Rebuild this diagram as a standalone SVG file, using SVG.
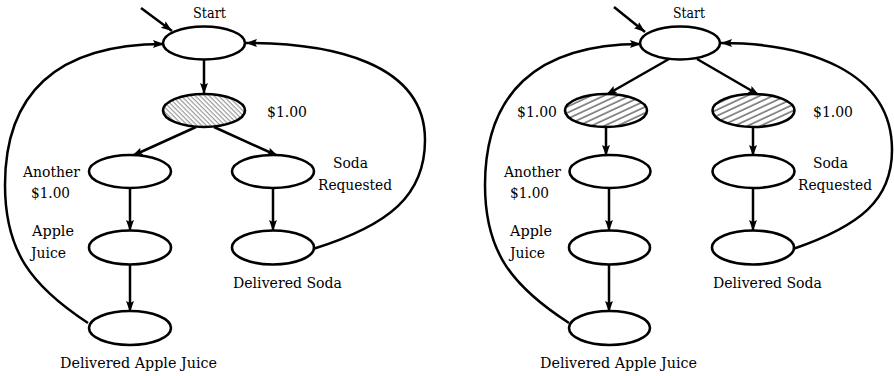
<svg xmlns="http://www.w3.org/2000/svg" width="894" height="376" viewBox="0 0 894 376">
<style>
.n{fill:#fff;stroke:#000;stroke-width:2.6}
.h1{fill:url(#hatchL);stroke:#000;stroke-width:2.6}
.h2{fill:url(#hatchR);stroke:#000;stroke-width:2.6}
.e{fill:none;stroke:#000;stroke-width:2.5;marker-end:url(#ah)}
text{font-family:'DejaVu Serif',serif;font-size:15px;fill:#000}
</style>
<defs>
<marker id="ah" markerUnits="userSpaceOnUse" markerWidth="12" markerHeight="10" refX="11" refY="4" orient="auto">
<path d="M0,0 L11,4 L0,8 L2,4 Z" fill="#000"/>
</marker>
<pattern id="hatchL" patternUnits="userSpaceOnUse" width="3.3" height="3.3" patternTransform="rotate(-45)">
<rect width="3.3" height="3.3" fill="#fff"/>
<line x1="1" y1="0" x2="1" y2="3.3" stroke="#555" stroke-width="0.7"/>
</pattern>
<pattern id="hatchR" patternUnits="userSpaceOnUse" width="6" height="5.5" patternTransform="rotate(-25)">
<rect width="6" height="5.5" fill="#fff"/>
<line x1="0" y1="1" x2="6" y2="1" stroke="#000" stroke-width="0.9"/>
</pattern>
</defs>

<g id="connectors">
<line class="e" x1="141" y1="8" x2="172" y2="31"/>
<line class="e" x1="204" y1="59" x2="204" y2="94"/>
<line class="e" x1="196" y1="127" x2="132" y2="156"/>
<line class="e" x1="214" y1="127" x2="278" y2="156"/>
<line class="e" x1="130" y1="188" x2="130" y2="231"/>
<line class="e" x1="273" y1="188" x2="273" y2="231"/>
<line class="e" x1="130" y1="264" x2="130" y2="312"/>
<path class="e" d="M88,323 C30,285 5,250 5,185 C5,95 55,44 164,44"/>
<path class="e" d="M313,249 C390,225 425,195 425,140 C425,62 330,43 246,43"/>
<line class="e" x1="614" y1="7" x2="645" y2="32"/>
<line class="e" x1="669" y1="59" x2="606" y2="95"/>
<line class="e" x1="697" y1="59" x2="759" y2="95"/>
<line class="e" x1="606" y1="127" x2="606" y2="156"/>
<line class="e" x1="753" y1="127" x2="753" y2="156"/>
<line class="e" x1="609" y1="188" x2="609" y2="231"/>
<line class="e" x1="753" y1="188" x2="753" y2="231"/>
<line class="e" x1="609" y1="264" x2="609" y2="312"/>
<path class="e" d="M569,323 C510,285 485,250 485,185 C485,95 535,44 641,44"/>
<path class="e" d="M793,249 C860,226 892,200 892,150 C892,70 805,43 721,43"/>
</g>

<g id="L-start">
<ellipse class="n" cx="204" cy="43" rx="41" ry="16.5"/>
<text x="193" y="18" textLength="33" lengthAdjust="spacingAndGlyphs">Start</text>
</g>
<g id="L-dollar">
<ellipse class="h1" cx="204" cy="110.5" rx="41" ry="16.5"/>
<text x="267" y="117" textLength="40" lengthAdjust="spacingAndGlyphs">$1.00</text>
</g>
<g id="L-another">
<ellipse class="n" cx="130" cy="171.5" rx="41" ry="16.5"/>
<text x="23" y="177" textLength="57" lengthAdjust="spacingAndGlyphs">Another</text>
<text x="31" y="198" textLength="39" lengthAdjust="spacingAndGlyphs">$1.00</text>
</g>
<g id="L-soda">
<ellipse class="n" cx="273" cy="171.5" rx="41" ry="16.5"/>
<text x="333" y="168" textLength="35" lengthAdjust="spacingAndGlyphs">Soda</text>
<text x="318" y="190" textLength="74" lengthAdjust="spacingAndGlyphs">Requested</text>
</g>
<g id="L-apple">
<ellipse class="n" cx="130" cy="247.5" rx="41" ry="17"/>
<text x="32" y="236" textLength="42" lengthAdjust="spacingAndGlyphs">Apple</text>
<text x="31" y="258" textLength="35" lengthAdjust="spacingAndGlyphs">Juice</text>
</g>
<g id="L-delsoda">
<ellipse class="n" cx="273" cy="247.5" rx="41" ry="17"/>
<text x="233" y="288" textLength="109" lengthAdjust="spacingAndGlyphs">Delivered Soda</text>
</g>
<g id="L-delapple">
<ellipse class="n" cx="130" cy="328" rx="41" ry="17"/>
<text x="60" y="368" textLength="157" lengthAdjust="spacingAndGlyphs">Delivered Apple Juice</text>
</g>

<g id="R-start">
<ellipse class="n" cx="680" cy="43" rx="40" ry="16.5"/>
<text x="673" y="18" textLength="32" lengthAdjust="spacingAndGlyphs">Start</text>
</g>
<g id="R-dollar1">
<ellipse class="h2" cx="606" cy="110.5" rx="41" ry="16.5"/>
<text x="517" y="117" textLength="40" lengthAdjust="spacingAndGlyphs">$1.00</text>
</g>
<g id="R-dollar2">
<ellipse class="h2" cx="753.5" cy="110.5" rx="41" ry="16.5"/>
<text x="813" y="117" textLength="40" lengthAdjust="spacingAndGlyphs">$1.00</text>
</g>
<g id="R-another">
<ellipse class="n" cx="610" cy="171.5" rx="40.5" ry="16.5"/>
<text x="504" y="177" textLength="57" lengthAdjust="spacingAndGlyphs">Another</text>
<text x="510" y="198" textLength="39" lengthAdjust="spacingAndGlyphs">$1.00</text>
</g>
<g id="R-soda">
<ellipse class="n" cx="753.5" cy="171.5" rx="41" ry="16.5"/>
<text x="813" y="168" textLength="35" lengthAdjust="spacingAndGlyphs">Soda</text>
<text x="798" y="190" textLength="74" lengthAdjust="spacingAndGlyphs">Requested</text>
</g>
<g id="R-apple">
<ellipse class="n" cx="609.5" cy="247.5" rx="40.5" ry="17"/>
<text x="510" y="236" textLength="42" lengthAdjust="spacingAndGlyphs">Apple</text>
<text x="510" y="258" textLength="35" lengthAdjust="spacingAndGlyphs">Juice</text>
</g>
<g id="R-delsoda">
<ellipse class="n" cx="753" cy="247.5" rx="41" ry="17"/>
<text x="713" y="288" textLength="109" lengthAdjust="spacingAndGlyphs">Delivered Soda</text>
</g>
<g id="R-delapple">
<ellipse class="n" cx="609.5" cy="328" rx="40.5" ry="17"/>
<text x="540" y="368" textLength="157" lengthAdjust="spacingAndGlyphs">Delivered Apple Juice</text>
</g>
</svg>
